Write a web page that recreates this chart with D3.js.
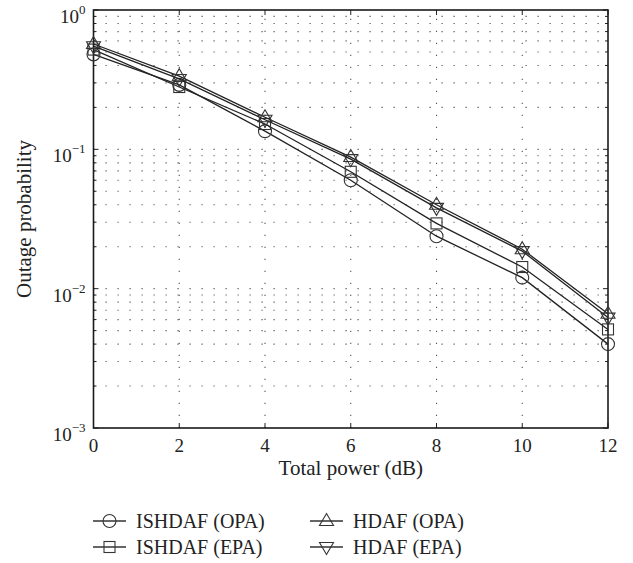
<!DOCTYPE html>
<html>
<head>
<meta charset="utf-8">
<script src="https://cdn.jsdelivr.net/npm/d3@7"></script>
<style>
  body { margin: 0; background: #fff; }
  text { font-family: "Liberation Serif", "DejaVu Serif", serif; fill: #222; }
</style>
</head>
<body>
<script>
// data
const power = [0, 2, 4, 6, 8, 10, 12];
const ishdafOpa = [0.48, 0.29, 0.135, 0.060, 0.0238, 0.0120, 0.0040];
const ishdafEpa = [0.52, 0.28, 0.152, 0.069, 0.0294, 0.0143, 0.0051];
const hdafOpa = [0.57, 0.335, 0.170, 0.088, 0.0400, 0.0192, 0.0066];
const hdafEpa = [0.55, 0.320, 0.163, 0.085, 0.0380, 0.0186, 0.0062];
const xTicks = [0, 2, 4, 6, 8, 10, 12];
const yExp = [0, -1, -2, -3];

const series = [
  {name: "ISHDAF (OPA)", values: ishdafOpa, marker: "circle"},
  {name: "ISHDAF (EPA)", values: ishdafEpa, marker: "square"},
  {name: "HDAF (OPA)", values: hdafOpa, marker: "up"},
  {name: "HDAF (EPA)", values: hdafEpa, marker: "down"}
];

const width = 633, height = 563;
let margin = {top: 10, right: 25, bottom: 135, left: 93.5};

let svg = d3.select("body").append("svg")
    .attr("width", width)
    .attr("height", height);

let x = d3.scaleLinear().domain([0, 12]).range([margin.left, width - margin.right]);
let y = d3.scaleLog().domain([1e-3, 1]).range([height - margin.bottom, margin.top]);

const x0 = x.range()[0], x1 = x.range()[1];
const yb = y.range()[0], yt = y.range()[1];

// minor log positions
let minor = [];
for (let e = -3; e < 0; e++) {
  for (let k = 2; k <= 9; k++) minor.push(k * Math.pow(10, e));
}
let major = yExp.map(e => Math.pow(10, e));

// dotted grid
let grid = svg.append("g")
    .attr("stroke", "#555")
    .attr("stroke-width", 1.1)
    .attr("stroke-dasharray", "1.2,10.8");

grid.selectAll("line.gx")
    .data(xTicks.filter(d => d > 0 && d < 12))
    .enter().append("line")
    .attr("class", "gx")
    .attr("x1", d => x(d)).attr("x2", d => x(d))
    .attr("y1", yb).attr("y2", yt);

grid.selectAll("line.gy")
    .data(minor.concat(major.filter(d => d > 1e-3 && d < 1)))
    .enter().append("line")
    .attr("class", "gy")
    .attr("x1", x0).attr("x2", x1)
    .attr("y1", d => y(d)).attr("y2", d => y(d));

// ticks on all four sides, pointing inward
let ticks = svg.append("g").attr("stroke", "#222").attr("stroke-width", 1);
xTicks.forEach(function(d) {
  ticks.append("line").attr("x1", x(d)).attr("x2", x(d)).attr("y1", yb).attr("y2", yb - 5);
  ticks.append("line").attr("x1", x(d)).attr("x2", x(d)).attr("y1", yt).attr("y2", yt + 5);
});
major.forEach(function(d) {
  ticks.append("line").attr("x1", x0).attr("x2", x0 + 5).attr("y1", y(d)).attr("y2", y(d));
  ticks.append("line").attr("x1", x1).attr("x2", x1 - 5).attr("y1", y(d)).attr("y2", y(d));
});
minor.forEach(function(d) {
  ticks.append("line").attr("x1", x0).attr("x2", x0 + 3).attr("y1", y(d)).attr("y2", y(d));
  ticks.append("line").attr("x1", x1).attr("x2", x1 - 3).attr("y1", y(d)).attr("y2", y(d));
});

// frame
svg.append("rect")
    .attr("x", x0).attr("y", yt)
    .attr("width", x1 - x0).attr("height", yb - yt)
    .attr("fill", "none")
    .attr("stroke", "#1a1a1a")
    .attr("stroke-width", 1.6);

// tick labels
svg.append("g").selectAll("text")
    .data(xTicks)
    .enter().append("text")
    .attr("x", d => x(d))
    .attr("y", yb + 24)
    .attr("text-anchor", "middle")
    .style("font-size", "19px")
    .text(d => d);

let yl = svg.append("g").selectAll("text")
    .data(yExp)
    .enter().append("text")
    .attr("x", x0 - 8)
    .attr("y", d => y(Math.pow(10, d)) + 13)
    .attr("text-anchor", "end")
    .style("font-size", "19px");
yl.append("tspan").text("10");
yl.append("tspan")
    .attr("dy", -9)
    .style("font-size", "13px")
    .text(d => d === 0 ? "0" : "\u2212" + (-d));

// axis titles
svg.append("text")
    .attr("x", (x0 + x1) / 2)
    .attr("y", yb + 47)
    .attr("text-anchor", "middle")
    .style("font-size", "21px")
    .text("Total power (dB)");

svg.append("text")
    .attr("transform", "translate(" + 31 + "," + ((yt + yb) / 2) + ") rotate(-90)")
    .attr("text-anchor", "middle")
    .style("font-size", "21px")
    .text("Outage probability");

// markers
function drawMarker(g, type, cx, cy) {
  if (type === "circle") {
    g.append("circle").attr("cx", cx).attr("cy", cy).attr("r", 6.5);
  } else if (type === "square") {
    g.append("rect").attr("x", cx - 5.5).attr("y", cy - 5.5).attr("width", 11).attr("height", 11);
  } else if (type === "up") {
    g.append("path").attr("d", `M${cx},${cy - 7.5}L${cx + 7},${cy + 4.5}L${cx - 7},${cy + 4.5}Z`);
  } else {
    g.append("path").attr("d", `M${cx},${cy + 7.5}L${cx + 7},${cy - 4.5}L${cx - 7},${cy - 4.5}Z`);
  }
}

let line = d3.line()
    .x((d, i) => x(power[i]))
    .y(d => y(d));

series.forEach(function(s) {
  svg.append("path")
      .datum(s.values)
      .attr("d", line)
      .attr("fill", "none")
      .attr("stroke", "#222")
      .attr("stroke-width", 1.3);
  let g = svg.append("g").attr("fill", "none").attr("stroke", "#333").attr("stroke-width", 1.1);
  s.values.forEach(function(v, i) { drawMarker(g, s.marker, x(power[i]), y(v)); });
});

// legend
const legendPos = [[93, 521], [93, 547], [310, 521], [310, 547]];
series.forEach(function(s, i) {
  let lx = legendPos[i][0], ly = legendPos[i][1];
  let g = svg.append("g").attr("fill", "none").attr("stroke", "#333").attr("stroke-width", 1.1);
  g.append("line").attr("x1", lx).attr("x2", lx + 33).attr("y1", ly).attr("y2", ly).attr("stroke-width", 1.3);
  drawMarker(g, s.marker, lx + 16.5, ly);
  svg.append("text")
      .attr("x", lx + 43)
      .attr("y", ly + 7)
      .style("font-size", "20px")
      .text(s.name);
});
</script>
</body>
</html>
